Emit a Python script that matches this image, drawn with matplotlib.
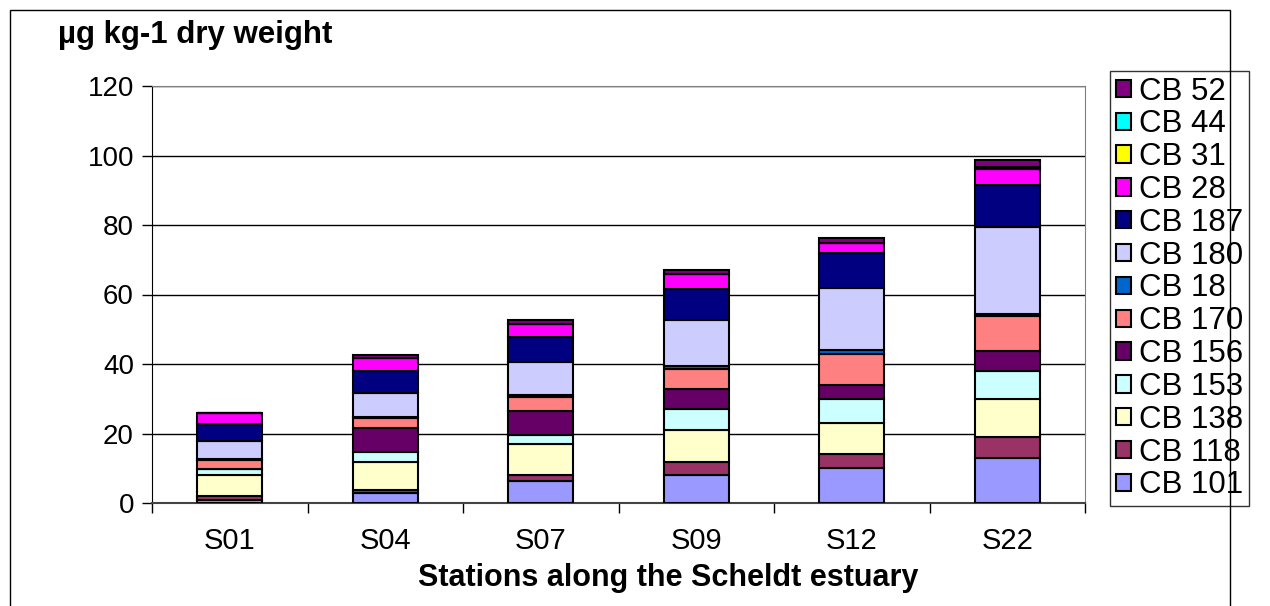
import matplotlib
matplotlib.use("Agg")
import matplotlib.pyplot as plt
from matplotlib.patches import Rectangle
import numpy as np

plt.rcParams["font.family"] = ["Liberation Sans", "DejaVu Sans"]

stations = ["S01", "S04", "S07", "S09", "S12", "S22"]

# stacked bottom -> top, values in µg kg-1 dry weight
cb101 = [0.8, 3.0, 6.2, 8.0, 10.0, 13.0]
cb118 = [1.3, 0.8, 2.0, 3.9, 4.0, 6.0]
cb138 = [6.0, 8.0, 8.8, 9.0, 8.9, 11.0]
cb153 = [1.6, 2.8, 2.6, 6.2, 7.1, 8.0]
cb156 = [0.2, 6.9, 7.0, 5.6, 3.9, 5.7]
cb170 = [2.6, 3.0, 3.8, 6.0, 9.0, 10.0]
cb18 = [0.2, 0.3, 0.8, 0.8, 1.0, 0.8]
cb180 = [5.2, 6.8, 9.3, 13.1, 17.9, 25.0]
cb187 = [4.7, 6.5, 7.2, 9.0, 10.1, 12.0]
cb28 = [3.2, 3.5, 3.8, 4.3, 2.8, 4.5]
cb31 = [0.0, 0.0, 0.0, 0.0, 0.0, 0.1]
cb44 = [0.0, 0.1, 0.1, 0.1, 0.2, 0.5]
cb52 = [0.2, 1.0, 1.0, 1.0, 1.4, 2.0]

series = [
    ("CB 101", cb101, "#9999FF"),
    ("CB 118", cb118, "#993366"),
    ("CB 138", cb138, "#FFFFCC"),
    ("CB 153", cb153, "#CCFFFF"),
    ("CB 156", cb156, "#660066"),
    ("CB 170", cb170, "#FF8080"),
    ("CB 18", cb18, "#0066CC"),
    ("CB 180", cb180, "#CCCCFF"),
    ("CB 187", cb187, "#000080"),
    ("CB 28", cb28, "#FF00FF"),
    ("CB 31", cb31, "#FFFF00"),
    ("CB 44", cb44, "#00FFFF"),
    ("CB 52", cb52, "#800080"),
]

W, H = 1270, 606
fig = plt.figure(figsize=(W / 100, H / 100), dpi=100)
ax = fig.add_axes([152 / W, 1 - 503 / H, (1085 - 152) / W, (503 - 86) / H])

x = np.arange(len(stations))
bottom = np.zeros(len(stations))
handles = []
for label, vals, color in series:
    vals = np.array(vals)
    h = ax.bar(x, vals, width=0.42, bottom=bottom, color=color,
               edgecolor="black", linewidth=1.5, label=label, zorder=3)
    handles.append(h)
    bottom += vals

ax.set_xlim(-0.5, len(stations) - 0.5)
ax.set_ylim(0, 120)
ax.set_yticks(range(0, 121, 20))
ax.tick_params(axis="y", labelsize=20, direction="out", length=7, width=1, pad=6)
ax.set_xticks(x)
ax.set_xticklabels(stations)
ax.tick_params(axis="x", which="major", length=0, labelsize=21, pad=17)
ax.set_xticks(np.arange(-0.5, len(stations), 1), minor=True)
ax.tick_params(axis="x", which="minor", direction="out", length=7, width=1)
ax.grid(axis="y", color="black", linewidth=1, zorder=0)
ax.spines["left"].set_color("black")
ax.spines["bottom"].set_color("#444444")
ax.spines["bottom"].set_linewidth(1.5)
ax.spines["top"].set_color("#808080")
ax.spines["right"].set_color("#808080")

fig.text(668 / W, 1 - 578 / H, "Stations along the Scheldt estuary",
         fontsize=22, fontweight="bold", ha="center", va="center")
fig.text(58 / W, 1 - 43 / H, "µg kg-1 dry weight", fontsize=22.5,
         fontweight="bold", ha="left", va="baseline")

leg = fig.legend(handles[::-1], [s[0] for s in series][::-1],
                 loc="upper left", bbox_to_anchor=(1110 / W, 1 - 71 / H),
                 fontsize=22.5, frameon=True, fancybox=False, shadow=False,
                 handlelength=0.48, handleheight=0.48, handletextpad=0.26,
                 labelspacing=0.09, borderpad=0.18, borderaxespad=0)
leg.get_frame().set_edgecolor("black")
leg.get_frame().set_linewidth(1)

# outer chart-area border, drawn over the legend like the original
fig.add_artist(Rectangle((10 / W, -0.05), (1230 - 10) / W, 1.05 - 10 / H,
                         transform=fig.transFigure, fill=False,
                         edgecolor="black", linewidth=1, zorder=10))

fig.savefig("out.png", dpi=100)
